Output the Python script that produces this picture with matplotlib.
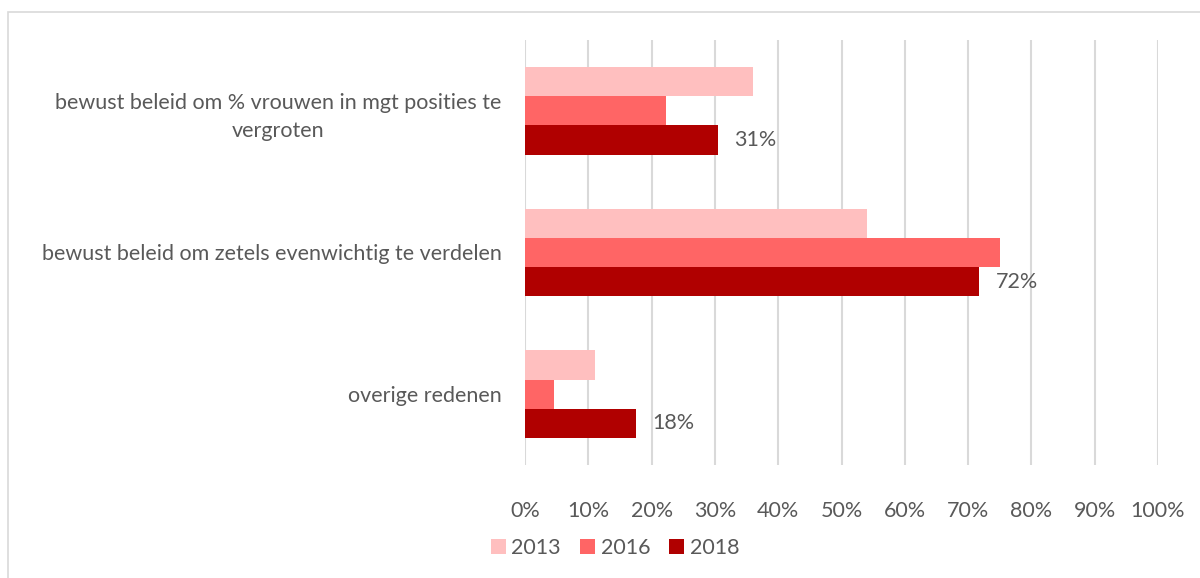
import numpy as np
import matplotlib
matplotlib.use("Agg")
import matplotlib.pyplot as plt
from matplotlib.patches import Rectangle

categories = ["bewust beleid om % vrouwen in mgt posities te\nvergroten",
              "bewust beleid om zetels evenwichtig te verdelen",
              "overige redenen"]
years = ["2013", "2016", "2018"]
v2013 = [36, 54, 11]
v2016 = [22.3, 75, 4.6]
v2018 = [30.5, 71.8, 17.5]
labels2018 = ["31%", "72%", "18%"]
xticks = list(range(0, 101, 10))

colors = ["#FFBFBF", "#FF6565", "#B00000"]
TXT = "#595959"
FS = 15.5

plt.rcParams["font.family"] = ["Lato", "DejaVu Sans"]

fig = plt.figure(figsize=(12, 5.78), dpi=100)
fig.patches.append(Rectangle((8 / 1200, -0.1), 1.2, 1 - 12 / 578 + 0.1,
                             transform=fig.transFigure, fill=False,
                             edgecolor="#D9D9D9", lw=1.2))
ax = fig.add_axes([525 / 1200, 1 - 465 / 578, (1158 - 525) / 1200, (465 - 40) / 578])

y = np.arange(len(categories))
h = 0.206
for k, (vals, c, yr) in enumerate(zip([v2013, v2016, v2018], colors, years)):
    ax.barh(y + (k - 1) * h, vals, height=h, color=c, label=yr, zorder=3)

for yi, v, lab in zip(y, v2018, labels2018):
    ax.text(v + 2.6, yi + h, lab, va="center", ha="left", fontsize=FS, color=TXT)

ax.set_xlim(0, 100)
ax.set_ylim(2.5, -0.5)
ax.set_xticks(xticks)
ax.set_xticklabels([f"{t}%" for t in xticks], fontsize=FS, color=TXT)
ax.set_yticks(y)
ax.set_yticklabels(categories, fontsize=FS, color=TXT, multialignment="center",
                   linespacing=1.5)
ax.tick_params(axis="x", length=0, pad=26)
ax.tick_params(axis="y", length=0, pad=17)
ax.grid(axis="x", color="#D9D9D9", lw=1.5, zorder=0)
for s in ax.spines.values():
    s.set_visible(False)

ax.legend(loc="center", bbox_to_anchor=(615 / 1200, 1 - 548 / 578),
          bbox_transform=fig.transFigure, ncol=3, frameon=False,
          fontsize=FS, labelcolor=TXT, handlelength=0.7, handleheight=0.7,
          handletextpad=0.25, columnspacing=0.9)

fig.savefig("out.png", dpi=100)
